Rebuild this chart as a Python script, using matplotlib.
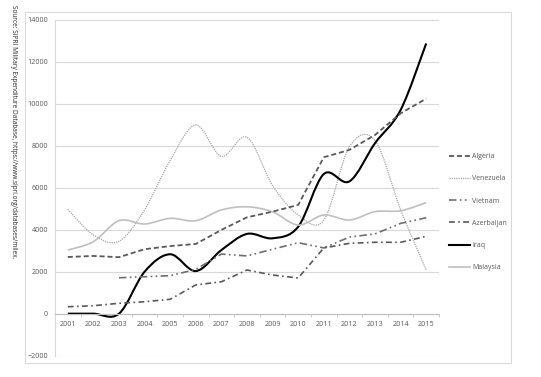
import numpy as np
import matplotlib
matplotlib.use("Agg")
import matplotlib.pyplot as plt
from matplotlib.path import Path
from matplotlib.patches import PathPatch, Rectangle
from matplotlib.lines import Line2D

plt.rcParams["font.family"] = ["Open Sans", "DejaVu Sans"]

# --------------------------------------------------------------
# Data (military expenditure)
# --------------------------------------------------------------
years = list(range(2001, 2016))
algeria = [2700, 2750, 2690, 3070, 3220, 3320, 3990, 4590, 4860, 5180, 7450, 7800, 8510, 9540, 10240]
venezuela = [4970, 3750, 3450, 4950, 7300, 8990, 7490, 8400, 6100, 4700, 4450, 7950, 8250, 4950, 2080]
vietnam = [np.nan, np.nan, 1710, 1760, 1810, 2110, 2840, 2750, 3070, 3380, 3130, 3650, 3800, 4300, 4570]
azerbaijan = [330, 380, 495, 570, 685, 1370, 1520, 2080, 1840, 1700, 3130, 3350, 3400, 3400, 3680]
iraq = [0, 0, 0, 2000, 2830, 2030, 3030, 3800, 3590, 4140, 6650, 6300, 8120, 9700, 12870]
malaysia = [3030, 3430, 4430, 4270, 4540, 4430, 4940, 5090, 4850, 4220, 4700, 4460, 4860, 4900, 5290]

source = "Source: SIPRI Military Expenditure Database, https://www.sipri.org/databases/milex."


def smooth_path(x, y):
    # excel-like smoothed line: catmull-rom as cubic bezier
    pts = [(a, b) for a, b in zip(x, y) if not np.isnan(b)]
    n = len(pts)
    verts = [pts[0]]
    codes = [Path.MOVETO]
    for i in range(n - 1):
        p0 = pts[max(i - 1, 0)]
        p1 = pts[i]
        p2 = pts[i + 1]
        p3 = pts[min(i + 2, n - 1)]
        c1 = (p1[0] + (p2[0] - p0[0]) / 6, p1[1] + (p2[1] - p0[1]) / 6)
        c2 = (p2[0] - (p3[0] - p1[0]) / 6, p2[1] - (p3[1] - p1[1]) / 6)
        verts += [c1, c2, p2]
        codes += [Path.CURVE4] * 3
    return Path(verts, codes)


series = [
    ("Algeria", algeria, dict(color="#595959", lw=1.3, ls=(0, (2.8, 1.6))), False),
    ("Venezuela", venezuela, dict(color="#a6a6a6", lw=0.9, ls=(0, (1, 0.8))), True),
    ("Vietnam", vietnam, dict(color="#6e6e6e", lw=1.2, ls=(0, (4.5, 2, 1, 2, 1, 2))), False),
    ("Azerbaijan", azerbaijan, dict(color="#595959", lw=1.2, ls=(0, (3.5, 2, 1, 2))), False),
    ("Iraq", iraq, dict(color="black", lw=1.5, ls="-"), True),
    ("Malaysia", malaysia, dict(color="#bfbfbf", lw=1.2, ls="-"), True),
]

fig = plt.figure(figsize=(5.41, 3.77), dpi=100)
ax = fig.add_axes([55 / 541, 1 - 356.2 / 377, (439 - 55) / 541, (356.2 - 19.2) / 377])

handles = []
for name, vals, st, smooth in series:
    if smooth:
        patch = PathPatch(smooth_path(years, vals), fill=False, edgecolor=st["color"],
                          lw=st["lw"], ls=st["ls"], capstyle="butt")
        ax.add_patch(patch)
    else:
        ax.plot(years, vals, color=st["color"], lw=st["lw"], ls=st["ls"])
    handles.append(Line2D([], [], color=st["color"], lw=st["lw"], ls=st["ls"], label=name))

ax.set_xlim(2000.5, 2015.5)
ax.set_ylim(-2025, 14025)
ax.set_yticks(range(-2000, 14001, 2000))
ax.set_xticks(years)
ax.set_xticks(np.arange(2000.5, 2016, 1), minor=True)
ax.yaxis.grid(True, color="#d9d9d9", lw=0.8)
ax.set_axisbelow(True)

for s in ["top", "right"]:
    ax.spines[s].set_visible(False)
ax.spines["left"].set_color("#d9d9d9")
ax.spines["left"].set_linewidth(0.8)
ax.spines["left"].set_bounds(-2000, 14000)
ax.spines["bottom"].set_position(("data", 0))
ax.spines["bottom"].set_color("#bfbfbf")
ax.spines["bottom"].set_linewidth(0.8)

ax.tick_params(axis="x", which="major", length=0, labelsize=5.2, labelcolor="#595959", pad=5)
ax.tick_params(axis="x", which="minor", length=2.5, color="#bfbfbf", width=0.6)
ax.tick_params(axis="y", length=0, labelsize=5.2, labelcolor="#595959", pad=5)

fig.legend(handles=handles, loc="upper left", bbox_to_anchor=(449 / 541, 1 - 153 / 377),
           frameon=False, fontsize=5, handlelength=3.0, handletextpad=0.35,
           labelspacing=2.2, labelcolor="#595959", borderaxespad=0, borderpad=0)

# outer chart border
fig.patches.append(Rectangle((25 / 541, 1 - 363 / 377), (511 - 25) / 541, (363 - 12) / 377,
                             transform=fig.transFigure, fill=False, edgecolor="#d9d9d9", lw=0.8))

fig.text(13 / 541, 1 - 5 / 377, source, rotation=-90, ha="center", va="top",
         fontsize=4.7, color="#262626")

fig.savefig("out.png", dpi=100)
